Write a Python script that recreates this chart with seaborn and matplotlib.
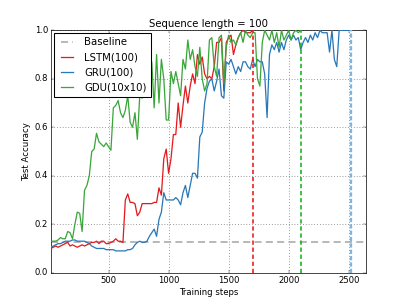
import numpy as np
import pandas as pd
import matplotlib
matplotlib.use("Agg")
import matplotlib.pyplot as plt
import seaborn as sns

plt.style.use("classic")
plt.rcParams["font.family"] = ["DejaVu Sans"]

step_size = 20
baseline = 0.125

lstm_acc = [0.10, 0.105, 0.11, 0.105, 0.11, 0.115, 0.12, 0.125, 0.11, 0.115,
            0.11, 0.105, 0.11, 0.115, 0.11, 0.115, 0.12, 0.125, 0.125, 0.13,
            0.12, 0.13, 0.13, 0.12, 0.12, 0.125, 0.13, 0.14, 0.13, 0.13,
            0.125, 0.30, 0.325, 0.29, 0.29, 0.285, 0.235, 0.25, 0.285, 0.285,
            0.285, 0.285, 0.285, 0.29, 0.29, 0.35, 0.32, 0.47, 0.51, 0.41,
            0.47, 0.57, 0.57, 0.70, 0.60, 0.69, 0.77, 0.70, 0.77, 0.82,
            0.78, 0.90, 0.86, 0.89, 0.82, 0.80, 0.81, 0.80, 0.85, 0.95,
            0.95, 0.97, 0.75, 0.95, 0.97, 0.98, 0.90, 0.94, 0.97, 0.99,
            1.0, 0.99, 0.99, 0.99, 1.0]

gru_acc = [0.105, 0.11, 0.115, 0.12, 0.12, 0.125, 0.13, 0.13, 0.13, 0.135,
           0.135, 0.13, 0.13, 0.13, 0.13, 0.125, 0.12, 0.11, 0.105, 0.10,
           0.10, 0.10, 0.10, 0.095, 0.095, 0.095, 0.095, 0.09, 0.09, 0.09,
           0.09, 0.09, 0.095, 0.095, 0.10, 0.115, 0.125, 0.13, 0.125, 0.125,
           0.13, 0.15, 0.165, 0.18, 0.15, 0.22, 0.25, 0.33, 0.30, 0.30,
           0.30, 0.30, 0.31, 0.30, 0.28, 0.33, 0.36, 0.31, 0.36, 0.41,
           0.41, 0.39, 0.56, 0.58, 0.70, 0.76, 0.79, 0.80, 0.75, 0.79,
           0.84, 0.73, 0.72, 0.87, 0.86, 0.88, 0.85, 0.82, 0.85, 0.83,
           0.87, 0.87, 0.85, 0.84, 0.88, 0.85, 0.88, 0.87, 0.87, 0.82,
           0.64, 0.90, 0.94, 0.92, 0.95, 0.91, 0.95, 0.92, 0.96, 0.98,
           0.96, 0.98, 0.96, 0.97, 0.92, 0.95, 0.97, 0.95, 0.98, 0.96,
           0.99, 0.97, 1.0, 0.99, 0.99, 0.99, 0.91, 1.0, 0.88, 0.85,
           1.0, 1.0, 1.0, 1.0, 1.0, 1.0]

gdu_acc = [0.13, 0.13, 0.13, 0.135, 0.145, 0.14, 0.14, 0.17, 0.165, 0.14,
           0.20, 0.25, 0.245, 0.17, 0.34, 0.36, 0.40, 0.50, 0.51, 0.575,
           0.54, 0.53, 0.52, 0.535, 0.52, 0.505, 0.68, 0.69, 0.71, 0.66,
           0.64, 0.67, 0.73, 0.62, 0.60, 0.66, 0.55, 0.73, 0.72, 0.86,
           0.75, 0.85, 0.87, 0.68, 0.90, 0.70, 0.88, 0.80, 0.63, 0.63,
           0.83, 0.78, 0.83, 0.78, 0.73, 0.88, 0.84, 0.96, 0.88, 0.92,
           0.85, 0.81, 0.93, 0.80, 0.75, 0.78, 0.96, 0.97, 0.85, 0.81,
           0.97, 0.98, 0.78, 0.93, 0.98, 0.95, 0.96, 0.94, 0.97, 0.99,
           0.95, 1.0, 0.98, 0.97, 0.99, 0.99, 0.80, 0.77, 0.95, 1.0,
           0.98, 0.96, 1.0, 0.95, 0.99, 0.93, 1.0, 0.96, 0.98, 1.0,
           0.96, 0.99, 1.0, 0.99, 1.0]

series_names = ["LSTM(100)", "GRU(100)", "GDU(10x10)"]
series_values = [lstm_acc, gru_acc, gdu_acc]
series_colors = ["#e41a1c", "#2878b8", "#3aa63a"]
vline_colors = ["#f01010", "#80b4dc", "#10b010"]
vline_widths = [2.2, 3.2, 2.2]
vline_dashes = [(6, 4), (6, 3), (6, 4)]

frames = []
for name, vals in zip(series_names, series_values):
    steps = [step_size * (i + 1) for i in range(len(vals))]
    frames.append(pd.DataFrame({"step": steps, "acc": vals, "model": name}))
df = pd.concat(frames, ignore_index=True)

DPI = 50.875
fig = plt.figure(figsize=(8, 303 / DPI), dpi=DPI, facecolor="white")
ax = fig.add_subplot(111)
fig.subplots_adjust(left=0.125, right=0.9, bottom=0.1, top=0.9)

max_step = df["step"].max()
ax.axhline(baseline, ls="--", color="#b0b0b0", lw=2.5, dashes=(10, 6),
           label="Baseline", zorder=1)

for name, col in zip(series_names, series_colors):
    sub = df[df["model"] == name]
    sns.lineplot(data=sub, x="step", y="acc", color=col, lw=1.8, label=name,
                 ax=ax, zorder=3)

for name, col, lw, ds in zip(series_names, vline_colors, vline_widths, vline_dashes):
    end = float(df[df["model"] == name]["step"].max())
    ax.axvline(x=end, linestyle="--", color=col, linewidth=lw, dashes=ds,
               zorder=4)

ax.set_xlim(df["step"].min(), max_step * 1.05)
ax.set_ylim(0, 1.0)
ax.set_xticks([500, 1000, 1500, 2000, 2500])
ax.set_yticks([0.0, 0.2, 0.4, 0.6, 0.8, 1.0])
ax.tick_params(labelsize=12)
ax.grid(True, ls=":", color="#444444", lw=1.0)
ax.set_axisbelow(True)
ax.set_title("Sequence length = 100", fontsize=14.4)
ax.set_xlabel("Training steps", fontsize=12)
ax.set_ylabel("Test Accuracy", fontsize=12)

leg = ax.legend(loc="upper left", fontsize=14.4, frameon=True, fancybox=False,
                handlelength=1.8, borderaxespad=0.3)
leg.get_frame().set_edgecolor("black")
leg.get_frame().set_linewidth(1.5)

fig.savefig("out.png", dpi=DPI, facecolor="white")
